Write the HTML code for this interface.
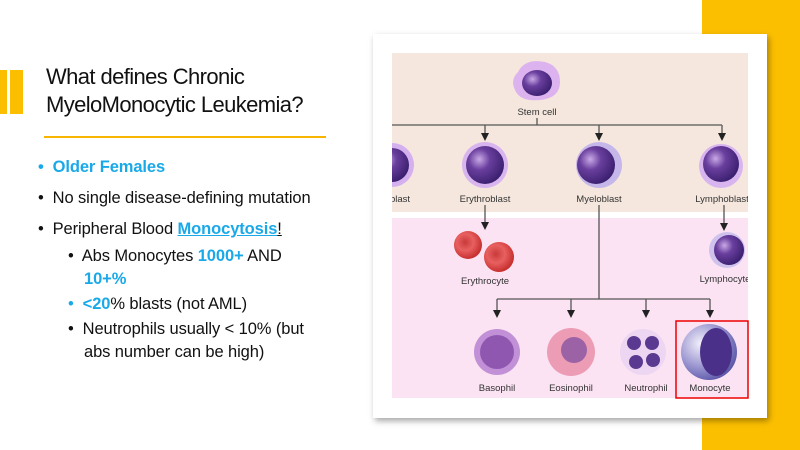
<!DOCTYPE html>
<html><head><meta charset="utf-8"><style>
body{margin:0;width:800px;height:450px;position:relative;background:#fff;overflow:hidden;font-family:"Liberation Sans",sans-serif}
.t{position:absolute;left:46px;top:63px;font-size:22px;line-height:28px;color:#111;letter-spacing:-0.6px}
.ul{position:absolute;left:44px;top:136px;width:282px;height:2px;background:#f7b500}
.b{position:absolute;font-size:16.5px;color:#111;white-space:nowrap;letter-spacing:-0.1px}
.c{color:#1aa9e8;font-weight:bold}
</style></head><body>
<div style="position:absolute;left:702px;top:0;width:98px;height:450px;background:#fcbf00"></div>
<div style="position:absolute;left:0;top:70px;width:7px;height:44px;background:#fcbf00"></div>
<div style="position:absolute;left:10px;top:70px;width:13px;height:44px;background:#fcbf00"></div>
<div class="t">What defines Chronic<br>MyeloMonocytic Leukemia?</div>
<div class="ul"></div>
<div class="b c" style="left:38px;top:158px">•&nbsp; Older Females</div>
<div class="b" style="left:38px;top:189px">•&nbsp; No single disease-defining mutation</div>
<div class="b" style="left:38px;top:220px">•&nbsp; Peripheral Blood <span class="c" style="text-decoration:underline">Monocytosis</span><u>!</u></div>
<div class="b" style="left:68px;top:247px">•&nbsp; Abs Monocytes <span class="c">1000+</span> AND</div>
<div class="b c" style="left:84px;top:270px">10+%</div>
<div class="b" style="left:68px;top:295px"><span style="color:#1aa9e8">•</span>&nbsp; <span class="c">&lt;20</span>% blasts (not AML)</div>
<div class="b" style="left:68px;top:320px">•&nbsp; Neutrophils usually &lt; 10% (but</div>
<div class="b" style="left:84px;top:343px">abs number can be high)</div>
<div style="position:absolute;left:373px;top:34px;width:394px;height:384px;background:#fff;box-shadow:2px 3px 6px rgba(0,0,0,0.35)"></div>
<svg style="position:absolute;left:0;top:0" width="800" height="450" font-family="Liberation Sans, sans-serif" font-size="9.5" fill="#333">
<defs>
<radialGradient id="n" cx="0.35" cy="0.35" r="0.7"><stop offset="0" stop-color="#c9a9e6"/><stop offset="0.4" stop-color="#6a3f9e"/><stop offset="1" stop-color="#3a1f6e"/></radialGradient>
<radialGradient id="r" cx="0.4" cy="0.4" r="0.6"><stop offset="0" stop-color="#c93a3a"/><stop offset="0.5" stop-color="#e86060"/><stop offset="1" stop-color="#c83030"/></radialGradient>
<radialGradient id="m" cx="0.35" cy="0.35" r="0.7"><stop offset="0" stop-color="#f2f0fb"/><stop offset="0.6" stop-color="#9a95d0"/><stop offset="1" stop-color="#5c58a8"/></radialGradient>
<clipPath id="cl"><rect x="392" y="53" width="356" height="345"/></clipPath>
</defs>
<g clip-path="url(#cl)">
<rect x="392" y="53" width="356" height="159" fill="#f5e7dd"/>
<rect x="392" y="218" width="356" height="180" fill="#fbe3f3"/>
<g stroke="#555" stroke-width="1.3" fill="none">
<path d="M537,118V125M392,125H722"/>
<path d="M485,125V133M599,125V133M722,125V133"/>
<path d="M485,205V222M724,205V223"/>
<path d="M599,205V299M497,299H710"/>
<path d="M497,299V310M571,299V310M646,299V310M710,299V310"/>
</g>
<g fill="#222">
<path d="M481,133h8l-4,8z"/><path d="M595,133h8l-4,8z"/><path d="M718,133h8l-4,8z"/>
<path d="M481,222h8l-4,8z"/><path d="M720,223h8l-4,8z"/>
<path d="M493,310h8l-4,8z"/><path d="M567,310h8l-4,8z"/><path d="M642,310h8l-4,8z"/><path d="M706,310h8l-4,8z"/>
</g>
<path d="M518,72 Q525,58 545,62 Q560,66 560,82 Q560,98 540,100 Q520,102 515,90 Q510,80 518,72z" fill="#dcb3ee"/>
<ellipse cx="537" cy="83" rx="15" ry="13" fill="url(#n)"/>
<circle cx="392" cy="165" r="22" fill="#d4b0ee"/><circle cx="392" cy="165" r="17" fill="url(#n)"/>
<circle cx="485" cy="165" r="23" fill="#d9b5f0"/><circle cx="485" cy="165" r="19" fill="url(#n)"/>
<circle cx="599" cy="165" r="23" fill="#c6b7ea"/><circle cx="596" cy="165" r="19" fill="url(#n)"/>
<circle cx="721" cy="166" r="22" fill="#d9b5f0"/><circle cx="721" cy="164" r="18" fill="url(#n)"/>
<circle cx="468" cy="245" r="14" fill="url(#r)"/>
<circle cx="499" cy="257" r="15" fill="url(#r)"/>
<circle cx="727" cy="250" r="18" fill="#cfc3ee"/><circle cx="729" cy="250" r="15" fill="url(#n)"/>
<circle cx="497" cy="352" r="23" fill="#c190d6"/><circle cx="497" cy="352" r="17" fill="#7a3fa0" opacity="0.7"/>
<circle cx="571" cy="352" r="24" fill="#ec9cb4"/><circle cx="574" cy="350" r="13" fill="#7a4aa0" opacity="0.7"/>
<circle cx="643" cy="352" r="23" fill="#ecd6f2"/><circle cx="634" cy="343" r="7" fill="#5a3a90"/><circle cx="652" cy="343" r="7" fill="#5a3a90"/><circle cx="636" cy="362" r="7" fill="#5a3a90"/><circle cx="653" cy="360" r="7" fill="#5a3a90"/>
<circle cx="709" cy="352" r="28" fill="url(#m)"/><ellipse cx="716" cy="352" rx="16" ry="24" fill="#4a3088"/>
<g text-anchor="middle">
<text x="537" y="115">Stem cell</text>
<text x="400" y="202">blast</text>
<text x="485" y="202">Erythroblast</text>
<text x="599" y="202">Myeloblast</text>
<text x="722" y="202">Lymphoblast</text>
<text x="485" y="284">Erythrocyte</text>
<text x="725" y="282">Lymphocyte</text>
<text x="497" y="391">Basophil</text>
<text x="571" y="391">Eosinophil</text>
<text x="646" y="391">Neutrophil</text>
<text x="710" y="391">Monocyte</text>
</g>
</g>
<rect x="676" y="321" width="72" height="77" fill="none" stroke="#e00" stroke-width="1.5"/>
</svg>
</body></html>
